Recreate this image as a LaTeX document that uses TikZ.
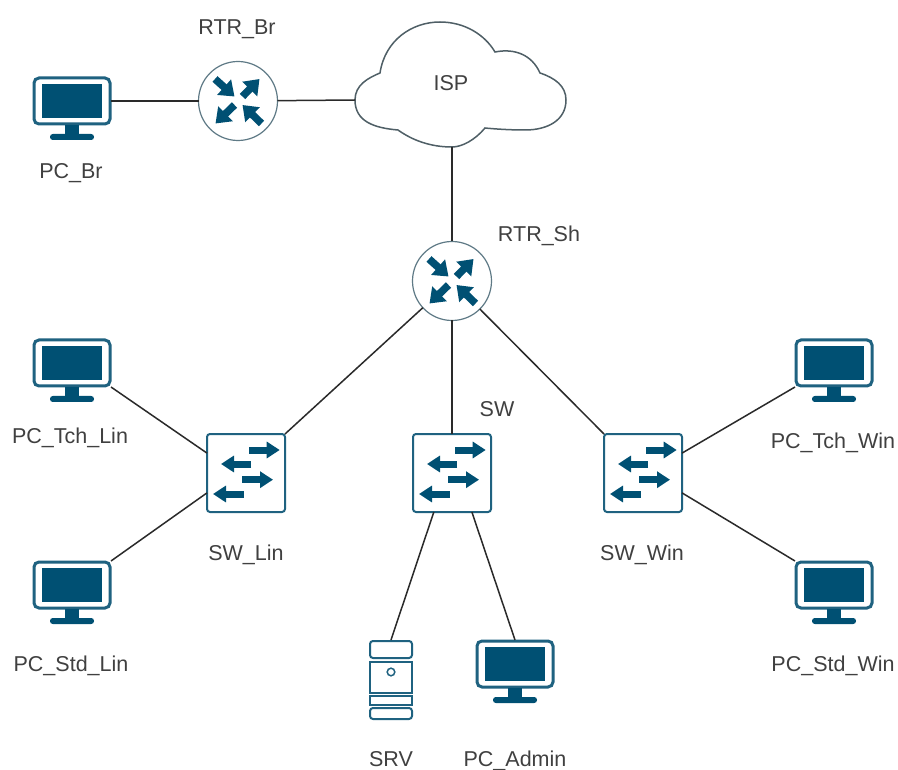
\documentclass[tikz,border=0pt]{standalone}
\usepackage{fontspec}
\usetikzlibrary{arrows.meta}
\setmainfont{Liberation Sans}
\definecolor{ciscoblue}{HTML}{005073}
\definecolor{bezel}{HTML}{1F6280}
\definecolor{ringc}{HTML}{5F7A86}
\definecolor{cloudc}{HTML}{4F5F66}
\definecolor{linkline}{HTML}{2A2A2A}
\definecolor{labeltext}{HTML}{404040}
\tikzset{
  x=1pt,y=-1pt,
  link/.style={draw=linkline,line width=1.5pt},
  lbl/.style={font=\fontsize{21.5}{24}\selectfont,text=labeltext,inner sep=0pt,anchor=base},
  pcbody/.style={rectangle,inner sep=0pt,outer sep=0pt,minimum width=78pt,minimum height=48pt},
  rtrbody/.style={circle,inner sep=0pt,outer sep=0pt,minimum size=79pt,draw=ringc,fill=white,line width=1.2pt},
  swbody/.style={rectangle,rounded corners=3pt,inner sep=0pt,outer sep=0pt,minimum size=78pt,draw=bezel,fill=white,line width=2pt},
  srvbody/.style={rectangle,inner sep=0pt,outer sep=0pt,minimum width=43pt,minimum height=80pt},
  rarr/.style={draw=ciscoblue,line width=7.5pt,-{Triangle[length=14pt,width=20pt]}},
  sarr/.style={draw=ciscoblue,line width=7pt,-{Triangle[length=13pt,width=16pt]}},
  pics/monitor/.style={code={
    \draw[bezel,line width=3pt,rounded corners=5pt,fill=white] (-38,-23) rectangle (38,23);
    \fill[ciscoblue] (-30,-17) rectangle (30,17);
    \fill[ciscoblue] (-7,24) rectangle (7,35);
    \fill[ciscoblue,rounded corners=2.8pt] (-22,33) rectangle (22,39);
  }},
  pics/rtrarrows/.style={code={
    \draw[rarr] (4.5,-4.5) -- (21.5,-22);
    \draw[rarr] (-23,-22) -- (-3.5,-4.5);
    \draw[rarr] (-3.5,4) -- (-22.5,22.5);
    \draw[rarr] (23.5,22.5) -- (4.5,4);
  }},
  pics/swarrows/.style={code={
    \draw[sarr] (3.3,-23) -- (33.7,-23);
    \draw[sarr] (5,-9) -- (-25,-9);
    \draw[sarr] (-4,6.7) -- (27,6.7);
    \draw[sarr] (-2.3,21) -- (-33,21);
  }},
}
\begin{document}
\begin{tikzpicture}
\useasboundingbox (0,0) rectangle (898,770);
\fill[white] (0,0) rectangle (898,770);

% nodes
\node[pcbody] (PCBr) at (72,101) {};
\pic at (72,101) {monitor};
\node[rtrbody] (RTRBr) at (238,101) {};
\pic at (238,101) {rtrarrows};
\node[rtrbody] (RTRSh) at (452,281) {};
\pic at (452,281) {rtrarrows};
\node[pcbody] (PCTL) at (72,363) {};
\pic at (72,363) {monitor};
\node[pcbody] (PCSL) at (72,585) {};
\pic at (72,585) {monitor};
\node[pcbody] (PCTW) at (834,363) {};
\pic at (834,363) {monitor};
\node[pcbody] (PCSW) at (834,585) {};
\pic at (834,585) {monitor};
\node[pcbody] (PCAd) at (515,664) {};
\pic at (515,664) {monitor};
\node[swbody] (SWL) at (246,473) {};
\pic at (246,473) {swarrows};
\node[swbody] (SWM) at (452,473) {};
\pic at (452,473) {swarrows};
\node[swbody] (SWW) at (643,473) {};
\pic at (643,473) {swarrows};

% server
\node[srvbody] (SRV) at (391,680) {};
\begin{scope}[shift={(391,680)},draw=bezel,line width=2pt]
  \draw[rounded corners=3pt] (-21,-39) rectangle (21,-22);
  \draw (-21,-18) rectangle (21,13);
  \draw (-21,16) rectangle (21,25);
  \draw[rounded corners=3pt] (-21,28) rectangle (21,39);
  \draw[line width=1.5pt] (0,-8) circle (3.8);
\end{scope}

% cloud
\coordinate (ISPs) at (452,147);
\coordinate (ISPw) at (355,100);
\draw[cloudc,line width=1.5pt,fill=white]
  (355,100) .. controls (355,85) and (368,78) .. (380,73)
  .. controls (385,40) and (412,22) .. (440,22)
  .. controls (465,22) and (485,35) .. (495,52)
  .. controls (515,48) and (532,55) .. (540,73)
  .. controls (555,78) and (566,86) .. (566,100)
  .. controls (566,120) and (548,130) .. (525,130)
  .. controls (510,130) and (495,129) .. (485,128)
  .. controls (475,140) and (462,147) .. (452,147)
  .. controls (430,147) and (412,140) .. (398,130)
  .. controls (375,128) and (355,122) .. (355,100) -- cycle;

% labels
\node[lbl] at (237,35) {RTR\_Br};
\node[lbl] at (71,179) {PC\_Br};
\node[lbl] at (451,91) {ISP};
\node[lbl] at (539,242) {RTR\_Sh};
\node[lbl] at (497,417) {SW};
\node[lbl] at (70,443) {PC\_Tch\_Lin};
\node[lbl] at (71,671) {PC\_Std\_Lin};
\node[lbl] at (246,560) {SW\_Lin};
\node[lbl] at (642,560) {SW\_Win};
\node[lbl] at (833,448) {PC\_Tch\_Win};
\node[lbl] at (833,671) {PC\_Std\_Win};
\node[lbl] at (391,766) {SRV};
\node[lbl] at (515,766) {PC\_Admin};

% connectors
\draw[link] (PCBr) -- (RTRBr);
\draw[link] (RTRBr) -- (ISPw);
\draw[link] (ISPs) -- (RTRSh);
\draw[link] (RTRSh) -- (SWL.north east);
\draw[link] (RTRSh) -- (SWM);
\draw[link] (RTRSh) -- (SWW.north west);
\draw[link] (PCTL.south east) -- (SWL.153);
\draw[link] (PCSL.north east) -- (SWL.207);
\draw[link] (PCTW.south west) -- (SWW.27);
\draw[link] (PCSW.north west) -- (SWW.-27);
\draw[link] (SWM.-115) -- (SRV.north);
\draw[link] (SWM.-63) -- (PCAd.north);
\end{tikzpicture}
\end{document}
